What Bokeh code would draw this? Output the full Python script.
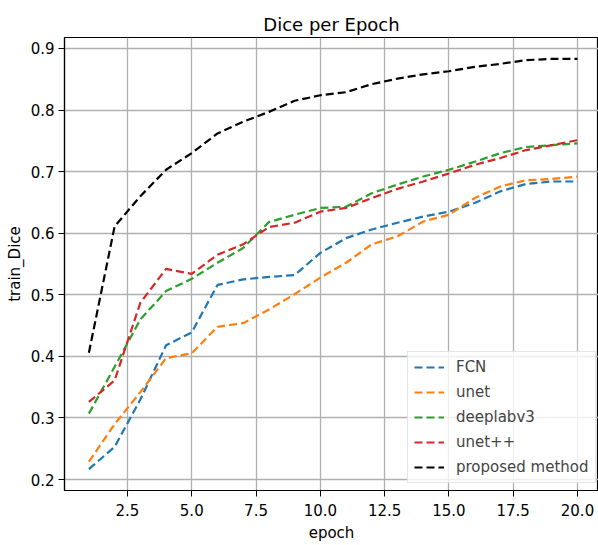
from bokeh.plotting import figure
from bokeh.models import Range1d, FixedTicker, Legend, LegendItem, PrintfTickFormatter
from bokeh.embed import file_html
from bokeh.resources import INLINE

epochs = list(range(1, 21))
fcn = [0.217, 0.253, 0.330, 0.418, 0.439, 0.516, 0.525, 0.529, 0.532, 0.568,
       0.592, 0.606, 0.617, 0.627, 0.635, 0.649, 0.668, 0.680, 0.684, 0.684]
unet = [0.229, 0.290, 0.342, 0.397, 0.405, 0.448, 0.454, 0.476, 0.501, 0.528,
        0.552, 0.582, 0.595, 0.619, 0.630, 0.657, 0.676, 0.686, 0.688, 0.692]
deeplabv3 = [0.307, 0.383, 0.460, 0.506, 0.526, 0.552, 0.576, 0.618, 0.630, 0.641,
             0.643, 0.665, 0.679, 0.692, 0.703, 0.716, 0.730, 0.740, 0.743, 0.746]
unetpp = [0.326, 0.361, 0.487, 0.542, 0.534, 0.565, 0.582, 0.610, 0.617, 0.635,
          0.641, 0.657, 0.672, 0.684, 0.697, 0.711, 0.722, 0.735, 0.743, 0.751]
proposed = [0.406, 0.611, 0.660, 0.703, 0.730, 0.762, 0.781, 0.797, 0.815, 0.824,
            0.829, 0.842, 0.851, 0.858, 0.863, 0.870, 0.875, 0.881, 0.883, 0.883]

series_names = ["FCN", "unet", "deeplabv3", "unet++", "proposed method"]
series_values = [fcn, unet, deeplabv3, unetpp, proposed]
series_colors = ["#1f77b4", "#ff7f0e", "#2ca02c", "#d62728", "#000000"]

x_ticks = [2.5, 5.0, 7.5, 10.0, 12.5, 15.0, 17.5, 20.0]
y_ticks = [0.2, 0.3, 0.4, 0.5, 0.6, 0.7, 0.8, 0.9]

FONT = "DejaVu Sans"

p = figure(width=598, height=544, output_backend="svg", toolbar_location=None,
           x_range=Range1d(0.051, 20.817), y_range=Range1d(0.18222, 0.91778),
           title="Dice per Epoch")
p.min_border_left = 64
p.min_border_right = 0
p.min_border_top = 37
p.min_border_bottom = 0

p.title.align = "center"
p.title.text_font = FONT
p.title.text_font_size = "18px"
p.title.text_font_style = "normal"
p.title.text_color = "#000000"
p.title.standoff = 6

p.outline_line_color = "#000000"
p.outline_line_width = 1.2

for ax in (p.xaxis[0], p.yaxis[0]):
    ax.axis_line_color = "#000000"
    ax.axis_line_width = 1.2
    ax.major_tick_line_color = "#000000"
    ax.major_tick_in = 0
    ax.major_tick_out = 6
    ax.minor_tick_line_color = None
    ax.major_label_text_font = FONT
    ax.major_label_text_font_size = "15px"
    ax.major_label_text_color = "#000000"
    ax.major_label_standoff = 4
    ax.axis_label_text_font = FONT
    ax.axis_label_text_font_size = "15px"
    ax.axis_label_text_font_style = "normal"
    ax.axis_label_text_color = "#000000"
    ax.axis_label_standoff = 4

p.xaxis.major_label_standoff = 7
p.xaxis.axis_label_standoff = 5

p.xaxis.ticker = FixedTicker(ticks=x_ticks)
p.yaxis.ticker = FixedTicker(ticks=y_ticks)
p.xaxis.formatter = PrintfTickFormatter(format="%.1f")
p.yaxis.formatter = PrintfTickFormatter(format="%.1f")
p.xaxis.axis_label = "epoch"
p.yaxis.axis_label = "train_Dice"

p.grid.grid_line_color = "#b0b0b0"
p.grid.grid_line_width = 1.3

items = []
for name, vals, col in zip(series_names, series_values, series_colors):
    r = p.line(epochs, vals, line_color=col, line_width=2.2, line_dash="8 4")
    items.append(LegendItem(label=name, renderers=[r]))

legend = Legend(items=items, location=(343, 7))
legend.label_text_font = FONT
legend.label_text_font_size = "15px"
legend.glyph_width = 30
legend.glyph_height = 18
legend.label_height = 18
legend.spacing = 7
legend.padding = 6
legend.margin = 0
legend.border_line_color = "#cccccc"
legend.border_line_width = 1
legend.background_fill_alpha = 0.8
legend.label_standoff = 12
p.add_layout(legend, "center")

open("out.html", "w").write(file_html(p, INLINE))
